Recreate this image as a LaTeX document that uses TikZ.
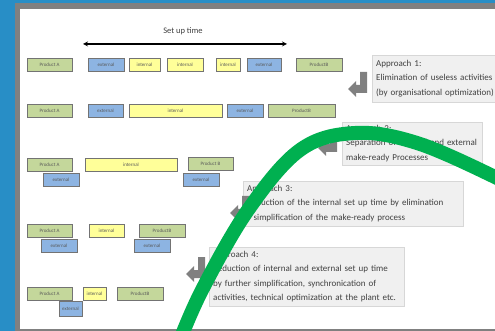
\documentclass[tikz,border=0pt]{standalone}
\usepackage{fontspec}
\setmainfont{Carlito}
\usepackage{tikz}
\usetikzlibrary{arrows}
\definecolor{slideblue}{RGB}{40,142,198}
\definecolor{framegray}{RGB}{128,128,128}
\definecolor{prodgreen}{RGB}{196,215,155}
\definecolor{extblue}{RGB}{141,180,226}
\definecolor{intyellow}{RGB}{255,255,153}
\definecolor{boxline}{RGB}{115,115,115}
\definecolor{boxtext}{RGB}{89,89,89}
\definecolor{apfill}{RGB}{240,240,240}
\definecolor{apline}{RGB}{215,215,215}
\definecolor{aptext}{RGB}{64,64,64}
\definecolor{arrowgray}{RGB}{128,128,128}
\definecolor{curvegreen}{RGB}{0,176,80}
\newcommand{\turnarrow}[1]{\fill[arrowgray,shift={(#1)}] (0,0) -- (0,21) -- (-11,21) -- (-11,25) -- (-19,17) -- (-11,9) -- (-11,13) -- (-7,13) -- (-7,0) -- cycle;}

\begin{document}
\begin{tikzpicture}[x=1pt,y=-1pt,
  sbox/.style={rectangle,draw=boxline,line width=0.7pt,inner sep=0,minimum height=13,
               text=boxtext,font=\fontsize{5}{6}\selectfont},
  prod/.style={sbox,fill=prodgreen},
  ext/.style={sbox,fill=extblue},
  int/.style={sbox,fill=intyellow},
  apbox/.style={rectangle,draw=apline,fill=apfill,anchor=north west,align=left,
                inner xsep=4,inner ysep=5,text=aptext,font=\fontsize{9}{14.5}\selectfont}
]
\useasboundingbox (0,0) rectangle (495,331);
\clip (0,0) rectangle (495,331);
\fill[slideblue] (0,0) rectangle (495,331);
\fill[framegray] (15,3) rectangle (495,331);
\fill[white] (20,9) rectangle (495,329);

% set up time
\node[text=aptext,font=\fontsize{8.5}{10}\selectfont] (setup) at (183,31) {Set up time};
\coordinate (tl) at (83,44);
\coordinate (tr) at (287,44);
\draw[<->,>=stealth,line width=1.2pt] (tl) -- (tr);

% row 1
\node[prod,minimum width=45] (pa1) at (49.5,64.5) {Product A};
\node[ext,minimum width=36]  (e1a) at (106,64.5) {external};
\node[int,minimum width=31]  (i1a) at (144.5,64.5) {internal};
\node[int,minimum width=36]  (i1b) at (185,64.5) {internal};
\node[int,minimum width=24]  (i1c) at (228,64.5) {internal};
\node[ext,minimum width=34]  (e1b) at (264,64.5) {external};
\node[prod,minimum width=46] (pb1) at (319,64.5) {ProductB};

% row 2
\node[prod,minimum width=45] (pa2) at (49.5,111) {Product A};
\node[ext,minimum width=35]  (e2a) at (105.5,111) {external};
\node[int,minimum width=93]  (i2)  at (175.5,111) {internal};
\node[ext,minimum width=36]  (e2b) at (245,111) {external};
\node[prod,minimum width=67] (pb2) at (301.5,111) {ProductB};

% row 3
\node[prod,minimum width=45] (pa3) at (49.5,165) {Product A};
\node[ext,minimum width=36]  (e3a) at (61,179.5) {external};
\node[int,minimum width=92]  (i3)  at (131,165) {internal};
\node[prod,minimum width=45] (pb3) at (210.5,164) {Product B};
\node[ext,minimum width=36]  (e3b) at (201,179.5) {external};

% row 4
\node[prod,minimum width=45] (pa4) at (49.5,230.5) {Product A};
\node[ext,minimum width=36]  (e4a) at (59,245.5) {external};
\node[int,minimum width=35]  (i4)  at (106.5,230.5) {internal};
\node[prod,minimum width=46] (pb4) at (162,230.5) {ProductB};
\node[ext,minimum width=36]  (e4b) at (152,245.5) {external};

% row 5
\node[prod,minimum width=45] (pa5) at (49.5,293.5) {Product A};
\node[ext,minimum width=23,minimum height=15] (e5) at (70.5,309) {external};
\node[int,minimum width=23]  (i5)  at (94.5,293.5) {internal};
\node[prod,minimum width=46] (pb5) at (140,293.5) {ProductB};

% approaches
\node[apbox,text width=130] (ap1) at (372,55) {Approach 1:\\Elimination of useless activities\\(by organisational optimization)};
\turnarrow{367,72}
\node[apbox,text width=132,inner ysep=3] (ap2) at (342,122) {Approach 2:\\Separation of internal and external\\make-ready Processes};
\turnarrow{337,131}
\node[apbox,text width=212,inner ysep=4] (ap3) at (243,181) {Approach 3:\\Reduction of the internal set up time by elimination\\/ simplification of the make-ready process};
\turnarrow{249,196}
\node[apbox,text width=187,inner ysep=4] (ap4) at (209,247) {Approach 4:\\Reduction of internal and external set up time\\by further simplification, synchronication of\\activities, technical optimization at the plant etc.};
\turnarrow{205,257}

\draw[curvegreen,line width=14pt] plot[smooth,tension=0.6] coordinates {(178,345) (202,290) (248,210) (300,150) (355,133) (417,143) (495,177) (515,190)};
\end{tikzpicture}
\end{document}
